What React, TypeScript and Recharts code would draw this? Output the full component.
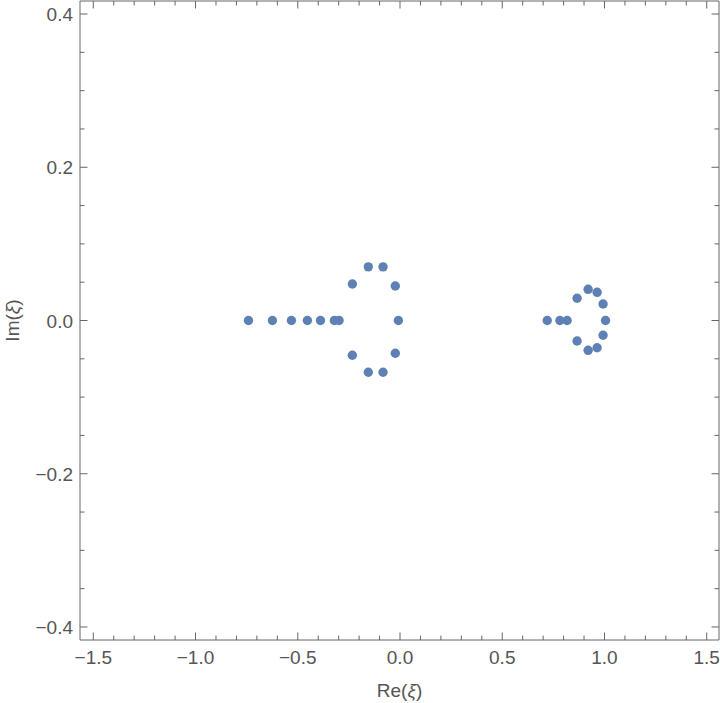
import { ScatterChart, Scatter, XAxis, YAxis } from 'recharts';

const reParts = [
  -0.741, -0.624, -0.531, -0.453, -0.389, -0.321, -0.298, -0.008,
  -0.233, -0.155, -0.083, -0.023,
  -0.233, -0.155, -0.083, -0.023,
  0.72, 0.782, 0.817, 1.005,
  0.866, 0.92, 0.964, 0.993,
  0.866, 0.92, 0.964, 0.993,
];
const imParts = [
  0, 0, 0, 0, 0, 0, 0, 0,
  0.0476, 0.07, 0.07, 0.045,
  -0.0454, -0.0676, -0.0676, -0.0428,
  0, 0, 0, 0,
  0.029, 0.0407, 0.0368, 0.0215,
  -0.0267, -0.0389, -0.0355, -0.0193,
];

const xTicks = [
  -1.5, -1.4, -1.3, -1.2, -1.1, -1.0, -0.9, -0.8, -0.7, -0.6, -0.5, -0.4, -0.3, -0.2, -0.1,
  0, 0.1, 0.2, 0.3, 0.4, 0.5, 0.6, 0.7, 0.8, 0.9, 1.0, 1.1, 1.2, 1.3, 1.4, 1.5,
];
const xMajor = [-1.5, -1.0, -0.5, 0, 0.5, 1.0, 1.5];
const yTicks = [-0.4, -0.35, -0.3, -0.25, -0.2, -0.15, -0.1, -0.05, 0, 0.05, 0.1, 0.15, 0.2, 0.25, 0.3, 0.35, 0.4];
const yMajor = [-0.4, -0.2, 0, 0.2, 0.4];

const points = reParts.map((re, i) => ({ re, im: imParts[i] }));

const FRAME = '#666666';
const TEXT = '#555555';
const FONT = '"Liberation Sans", Arial, sans-serif';

const isMajor = (v: number, majors: number[]) => majors.some(m => Math.abs(m - v) < 1e-9);
const fmt = (v: number, d: number) => (v < 0 ? '\u2212' : '') + Math.abs(v).toFixed(d);

const BottomTick = ({ x, y, payload }: any) => {
  const major = isMajor(payload.value, xMajor);
  return (
    <g>
      <line x1={x} y1={y} x2={x} y2={y - (major ? 7.5 : 4.5)} stroke={FRAME} />
      {major && (
        <text x={x} y={y + 24} textAnchor="middle" fontSize={19} fill={TEXT} fontFamily={FONT}>
          {fmt(payload.value, 1)}
        </text>
      )}
    </g>
  );
};

const TopTick = ({ x, y, payload }: any) => {
  const major = isMajor(payload.value, xMajor);
  return <line x1={x} y1={y} x2={x} y2={y + (major ? 7.5 : 4.5)} stroke={FRAME} />;
};

const LeftTick = ({ x, y, payload }: any) => {
  const major = isMajor(payload.value, yMajor);
  return (
    <g>
      <line x1={x} y1={y} x2={x + (major ? 7.5 : 4.5)} y2={y} stroke={FRAME} />
      {major && (
        <text x={x - 7} y={y + 7} textAnchor="end" fontSize={19} fill={TEXT} fontFamily={FONT}>
          {fmt(payload.value, 1)}
        </text>
      )}
    </g>
  );
};

const RightTick = ({ x, y, payload }: any) => {
  const major = isMajor(payload.value, yMajor);
  return <line x1={x} y1={y} x2={x - (major ? 7.5 : 4.5)} y2={y} stroke={FRAME} />;
};

const Dot = ({ cx, cy }: any) => <circle cx={cx} cy={cy} r={4.7} fill="#5E81B5" />;

const XTitle = ({ viewBox }: any) => (
  <text x={viewBox.x + viewBox.width / 2} y={viewBox.y + viewBox.height - 6} textAnchor="middle" fontSize={19} fill={TEXT} fontFamily={FONT}>
    Re(<tspan fontStyle="italic">ξ</tspan>)
  </text>
);

const YTitle = ({ viewBox }: any) => {
  const cx = viewBox.x + 19;
  const cy = viewBox.y + viewBox.height / 2;
  return (
    <text x={cx} y={cy} transform={`rotate(-90 ${cx} ${cy})`} textAnchor="middle" fontSize={19} fill={TEXT} fontFamily={FONT}>
      Im(<tspan fontStyle="italic">ξ</tspan>)
    </text>
  );
};

export default function App() {
  return (
    <div style={{ position: 'absolute', left: 0, top: 0, background: '#fff' }}>
      <ScatterChart width={720} height={703} margin={{ top: 0, right: 0, bottom: 0, left: 0 }}>
        <XAxis
          xAxisId="b"
          type="number"
          dataKey="re"
          domain={[-1.565, 1.56]}
          ticks={xTicks}
          interval={0}
          allowDataOverflow
          height={63}
          tickSize={0}
          tickMargin={0}
          tickLine={false}
          axisLine={{ stroke: FRAME }}
          tick={<BottomTick />}
          label={<XTitle />}
        />
        <XAxis
          xAxisId="t"
          orientation="top"
          type="number"
          dataKey="re"
          domain={[-1.565, 1.56]}
          ticks={xTicks}
          interval={0}
          allowDataOverflow
          height={1}
          tickSize={0}
          tickMargin={0}
          tickLine={false}
          axisLine={{ stroke: FRAME }}
          tick={<TopTick />}
        />
        <YAxis
          yAxisId="l"
          type="number"
          dataKey="im"
          domain={[-0.417, 0.417]}
          ticks={yTicks}
          interval={0}
          allowDataOverflow
          width={80}
          tickSize={0}
          tickMargin={0}
          tickLine={false}
          axisLine={{ stroke: FRAME }}
          tick={<LeftTick />}
          label={<YTitle />}
        />
        <YAxis
          yAxisId="r"
          orientation="right"
          type="number"
          dataKey="im"
          domain={[-0.417, 0.417]}
          ticks={yTicks}
          interval={0}
          allowDataOverflow
          width={1}
          tickSize={0}
          tickMargin={0}
          tickLine={false}
          axisLine={{ stroke: FRAME }}
          tick={<RightTick />}
        />
        <Scatter data={points} xAxisId="b" yAxisId="l" shape={<Dot />} isAnimationActive={false} />
      </ScatterChart>
    </div>
  );
}
